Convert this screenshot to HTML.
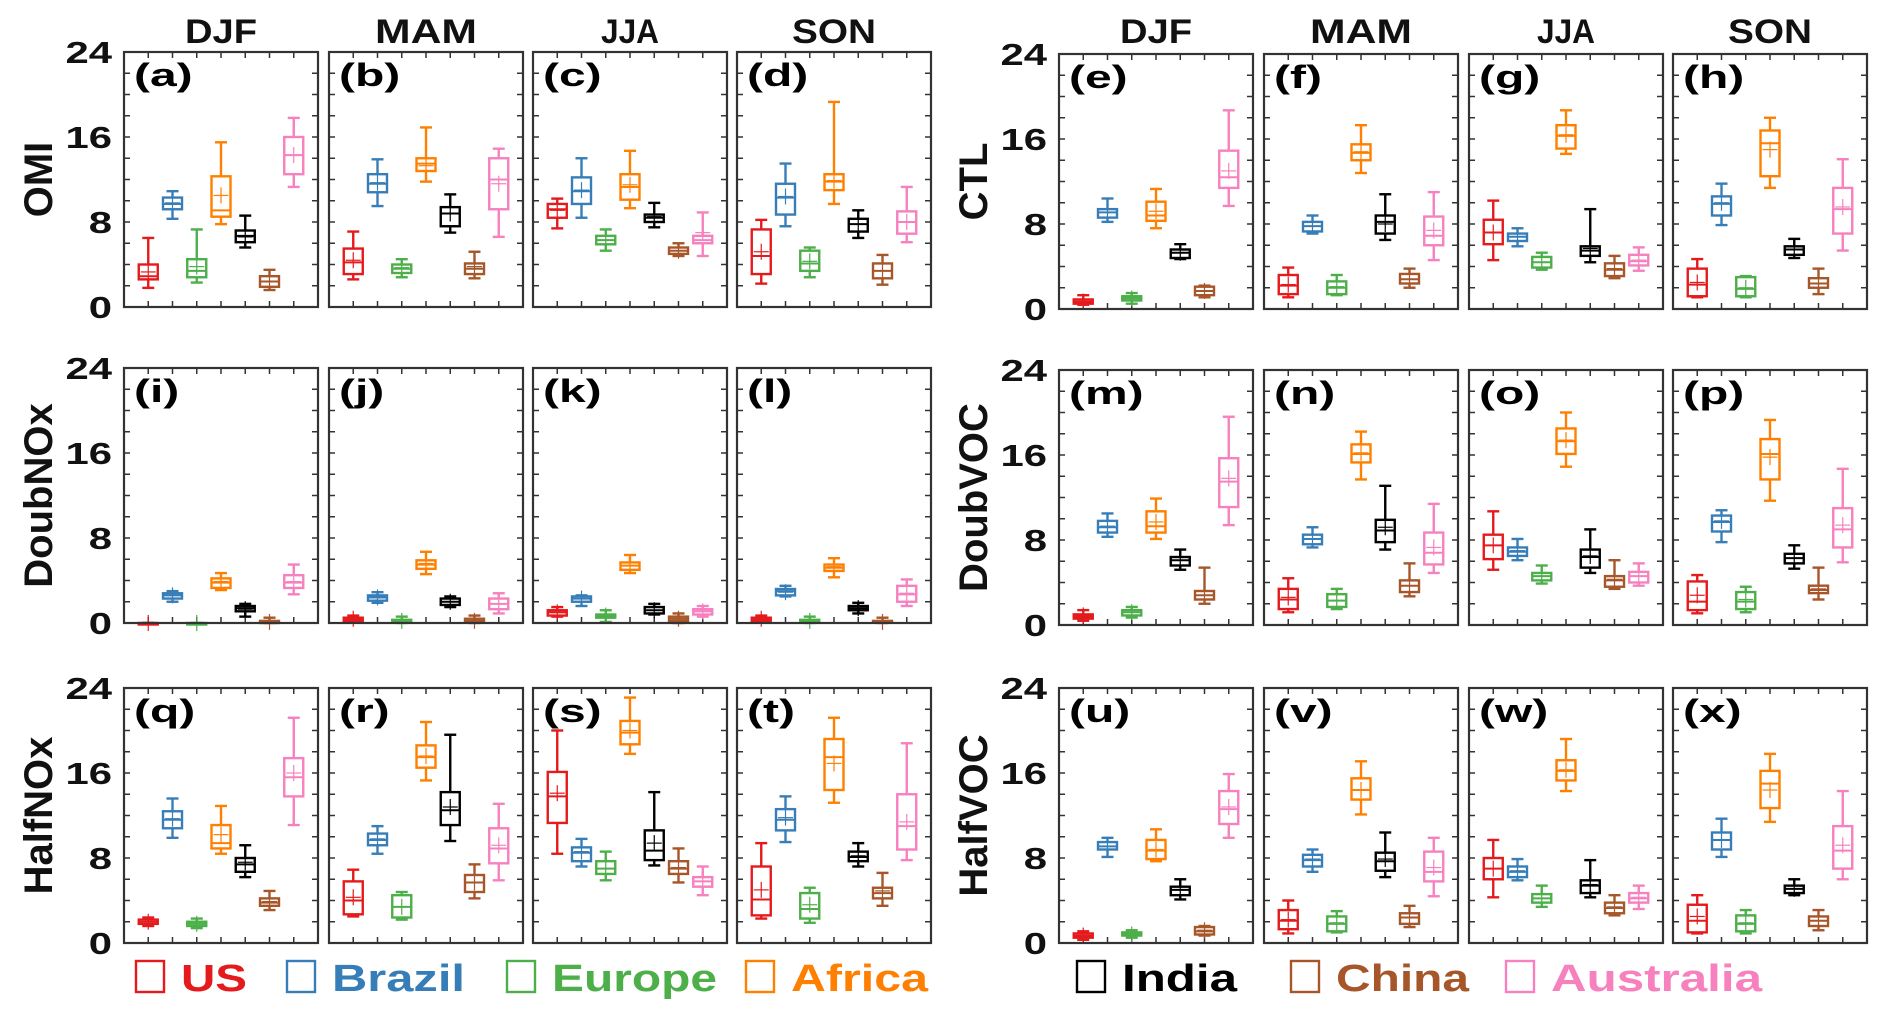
<!DOCTYPE html>
<html><head><meta charset="utf-8"><style>
html,body{margin:0;padding:0;background:#fff;}
svg{display:block;font-family:"Liberation Sans",sans-serif;font-weight:bold;}
</style></head><body>
<svg id="chart" width="1892" height="1014" viewBox="0 0 1892 1014" xmlns="http://www.w3.org/2000/svg"></svg>
<script>
const regions=['US','Brazil','Europe','Africa','India','China','Australia'];
const colors=['#e41a1c','#377eb8','#4daf4a','#ff7f00','#000000','#a65628','#f781bf'];
const seasons=['DJF','MAM','JJA','SON'];
const rowLabelsLeft=['OMI','DoubNOx','HalfNOx'];
const rowLabelsRight=['CTL','DoubVOC','HalfVOC'];
const yTicks=[0,8,16,24];
const yMax=24;
// each box: [lo, q1, median, q3, hi, mean]
const dataA=[[1.8,2.6,2.9,4.0,6.5,3.3],[8.3,9.2,9.7,10.3,10.9,9.8],[2.3,2.8,3.4,4.5,7.3,3.8],[7.8,8.5,9.1,12.3,15.5,10.5],[5.6,6.1,6.7,7.2,8.6,6.6],[1.6,1.9,2.4,2.9,3.5,2.4],[11.3,12.5,14.3,16.0,17.8,14.3]];
const dataB=[[2.6,3.1,4.2,5.5,7.1,4.4],[9.5,10.8,11.6,12.5,13.9,11.7],[2.8,3.2,3.6,4.0,4.5,3.7],[11.8,12.8,13.5,14.0,16.9,13.3],[7.0,7.6,8.8,9.4,10.6,8.8],[2.7,3.1,3.6,4.1,5.2,3.8],[6.6,9.2,12.0,14.0,14.9,11.6]];
const dataC=[[7.4,8.4,9.2,9.7,10.2,9.1],[8.4,9.7,10.9,12.2,14.0,11.0],[5.3,5.9,6.3,6.7,7.3,6.3],[9.3,10.1,11.3,12.5,14.7,11.5],[7.5,8.0,8.4,8.7,9.8,8.5],[4.8,5.0,5.3,5.6,6.0,5.3],[4.8,6.0,6.3,6.7,8.9,7.0]];
const dataD=[[2.2,3.1,4.8,7.3,8.2,5.2],[7.6,8.7,10.3,11.6,13.5,10.4],[2.8,3.4,4.1,5.3,5.6,4.3],[9.7,11.0,11.8,12.5,19.3,11.9],[6.5,7.1,7.8,8.3,9.1,7.8],[2.1,2.7,3.4,4.1,4.9,3.4],[6.1,6.9,8.0,9.0,11.3,8.0]];
const dataE=[[0.4,0.5,0.7,0.9,1.3,0.7],[8.2,8.6,9.1,9.4,10.4,9.1],[0.5,0.8,1.0,1.2,1.5,1.0],[7.6,8.3,8.8,10.1,11.3,9.2],[4.7,4.8,5.3,5.6,6.1,5.3],[1.1,1.3,1.7,2.1,2.2,1.7],[9.7,11.4,12.4,14.9,18.7,13.0]];
const dataF=[[1.1,1.4,2.2,3.2,3.9,2.3],[7.1,7.3,7.8,8.2,8.8,7.8],[1.3,1.4,2.0,2.6,3.2,2.1],[12.8,14.0,14.7,15.5,17.3,14.8],[6.5,7.1,8.2,8.8,10.8,8.0],[2.0,2.4,2.8,3.3,3.8,2.8],[4.6,6.0,6.9,8.7,11.0,7.4]];
const dataG=[[4.6,6.1,7.2,8.4,10.2,7.2],[5.9,6.4,6.8,7.1,7.6,6.8],[3.7,3.9,4.4,4.9,5.3,4.4],[14.6,15.1,16.3,17.3,18.7,16.4],[4.4,5.0,5.5,5.9,9.4,5.7],[2.9,3.1,3.7,4.3,5.0,3.8],[3.6,4.1,4.5,5.1,5.8,4.6]];
const dataH=[[1.1,1.2,2.3,3.8,4.7,2.5],[7.9,8.8,9.9,10.6,11.8,10.0],[1.1,1.2,1.9,3.0,3.1,2.0],[11.4,12.5,15.6,16.8,18.0,15.0],[4.8,5.1,5.6,5.9,6.6,5.6],[1.4,2.0,2.4,2.9,3.8,2.4],[5.5,7.1,9.4,11.4,14.1,9.6]];
const dataI=[[0,0,0,0,0,0],[2.0,2.3,2.6,2.8,3.0,2.6],[0,0,0,0,0,0],[3.1,3.3,3.8,4.2,4.7,3.9],[0.6,1.1,1.4,1.6,1.8,1.3],[0,0,0.1,0.2,0.5,0.1],[2.7,3.3,3.8,4.5,5.5,3.9]];
const dataJ=[[0.1,0.2,0.3,0.5,0.7,0.4],[1.9,2.1,2.4,2.6,2.9,2.4],[0,0.1,0.2,0.3,0.6,0.2],[4.6,5.1,5.5,5.9,6.7,5.6],[1.5,1.7,2.0,2.3,2.5,2.0],[0,0.1,0.2,0.4,0.7,0.2],[0.9,1.3,1.8,2.3,2.8,1.8]];
const dataK=[[0.6,0.7,1.0,1.2,1.5,1.0],[1.6,2.0,2.3,2.5,2.6,2.3],[0.1,0.5,0.7,0.8,1.2,0.7],[4.7,5.0,5.4,5.7,6.4,5.4],[0.8,0.9,1.2,1.5,1.8,1.2],[0,0.2,0.4,0.6,0.9,0.4],[0.6,0.8,1.1,1.3,1.6,1.1]];
const dataL=[[0.1,0.2,0.3,0.5,0.7,0.4],[2.5,2.6,3.0,3.2,3.5,2.9],[0,0.1,0.2,0.3,0.6,0.2],[4.3,4.9,5.2,5.5,6.1,5.3],[0.9,1.2,1.4,1.6,1.9,1.4],[0,0.05,0.1,0.2,0.5,0.1],[1.6,2.0,2.7,3.5,4.1,2.8]];
const dataM=[[0.4,0.6,0.8,1.0,1.4,0.9],[8.3,8.7,9.2,9.8,10.5,9.3],[0.7,0.9,1.2,1.4,1.7,1.2],[8.1,8.7,9.3,10.7,11.9,9.7],[5.2,5.6,6.1,6.4,7.1,6.1],[2.0,2.4,2.8,3.2,5.4,2.8],[9.4,11.1,13.5,15.7,19.6,13.8]];
const dataN=[[1.2,1.5,2.4,3.4,4.4,2.6],[7.3,7.6,8.1,8.5,9.2,8.1],[1.5,1.7,2.3,2.9,3.4,2.3],[13.7,15.3,16.1,17.0,18.2,16.2],[7.1,7.8,8.9,9.9,13.1,9.2],[2.7,3.1,3.7,4.2,5.8,3.7],[4.9,5.7,6.8,8.7,11.4,7.3]];
const dataO=[[5.2,6.2,7.5,8.5,10.7,7.5],[6.1,6.5,6.9,7.3,8.1,7.0],[3.9,4.2,4.6,4.9,5.6,4.6],[14.9,16.1,17.3,18.5,20.0,17.4],[4.9,5.4,6.4,7.1,9.0,6.5],[3.4,3.6,4.2,4.6,6.1,4.3],[3.7,4.0,4.6,5.0,5.8,4.6]];
const dataP=[[1.1,1.4,2.2,4.1,4.7,2.8],[7.8,8.8,9.7,10.3,10.8,9.8],[1.2,1.5,2.2,3.1,3.6,2.4],[11.7,13.7,16.1,17.5,19.3,15.8],[5.3,5.8,6.3,6.7,7.5,6.3],[2.4,3.0,3.3,3.7,5.4,3.4],[5.9,7.3,9.0,11.0,14.7,9.4]];
const dataQ=[[1.6,1.8,2.0,2.2,2.4,2.0],[9.9,10.8,11.6,12.4,13.6,11.7],[1.4,1.6,1.8,2.0,2.3,1.8],[8.4,8.9,9.4,11.1,12.9,10.2],[6.2,6.7,7.4,8.0,9.2,7.6],[3.1,3.5,3.8,4.2,4.9,3.9],[11.1,13.8,15.6,17.4,21.2,16.0]];
const dataR=[[2.5,2.7,4.0,5.8,6.9,4.3],[8.4,9.2,9.7,10.3,11.0,9.8],[2.2,2.4,3.4,4.5,4.8,3.4],[15.3,16.5,17.5,18.6,20.8,17.6],[9.6,11.1,12.5,14.2,19.6,12.8],[4.2,4.8,5.7,6.4,7.4,5.7],[5.9,7.5,8.9,10.8,13.1,9.2]];
const dataS=[[8.4,11.3,13.8,16.1,20.0,14.1],[7.2,7.7,8.5,9.0,9.8,8.6],[5.9,6.5,7.0,7.7,8.6,7.0],[17.8,18.7,19.8,20.9,23.1,20.0],[7.3,7.8,8.7,10.6,14.2,9.4],[5.7,6.5,7.0,7.7,8.9,7.1],[4.5,5.3,5.8,6.2,7.2,5.8]];
const dataT=[[2.3,2.6,4.1,7.2,9.4,5.0],[9.5,10.6,11.6,12.6,13.8,11.8],[1.9,2.3,3.2,4.7,5.2,3.6],[13.2,14.4,17.5,19.2,21.2,16.9],[7.2,7.7,8.1,8.6,9.4,8.2],[3.5,4.2,4.7,5.2,6.6,4.9],[7.8,8.8,11.0,14.0,18.8,11.4]];
const dataU=[[0.3,0.5,0.7,0.9,1.1,0.7],[8.1,8.8,9.1,9.5,9.9,9.1],[0.5,0.7,0.8,1.0,1.2,0.8],[7.7,7.9,8.7,9.7,10.7,8.8],[4.1,4.5,5.0,5.3,6.0,5.0],[0.7,0.8,1.1,1.5,1.6,1.2],[9.9,11.2,12.6,14.3,15.9,12.8]];
const dataV=[[0.9,1.3,2.1,3.1,4.0,2.2],[6.7,7.2,7.8,8.3,8.8,7.9],[1.0,1.1,1.8,2.5,3.0,1.9],[12.1,13.5,14.4,15.5,17.1,14.4],[6.2,6.8,7.7,8.5,10.4,7.9],[1.5,1.8,2.4,2.8,3.5,2.4],[4.4,5.8,6.7,8.6,9.9,7.1]];
const dataW=[[4.3,6.0,7.0,8.0,9.7,7.0],[5.9,6.2,6.7,7.2,7.9,6.8],[3.4,3.8,4.2,4.6,5.4,4.2],[14.3,15.3,16.2,17.2,19.2,16.3],[4.3,4.7,5.4,5.9,7.8,5.5],[2.6,2.8,3.3,3.8,4.5,3.4],[3.2,3.8,4.2,4.7,5.4,4.3]];
const dataX=[[0.9,1.0,2.1,3.6,4.5,2.5],[8.1,8.8,9.7,10.4,11.7,9.7],[0.9,1.1,1.8,2.6,3.1,1.9],[11.4,12.7,15.0,16.2,17.8,14.4],[4.5,4.7,5.1,5.4,6.0,5.1],[1.2,1.6,2.1,2.5,3.1,2.1],[6.0,7.0,8.7,11.0,14.3,9.2]];

const panelLetters='abcdefghijklmnopqrstuvwx'.split('');
const leftPanels=[[dataA,dataB,dataC,dataD],[dataI,dataJ,dataK,dataL],[dataQ,dataR,dataS,dataT]];
const rightPanels=[[dataE,dataF,dataG,dataH],[dataM,dataN,dataO,dataP],[dataU,dataV,dataW,dataX]];

const NS='http://www.w3.org/2000/svg';
const svg=document.getElementById('chart');
function mk(tag,attrs,parent){const e=document.createElementNS(NS,tag);for(const k in attrs)e.setAttribute(k,attrs[k]);(parent||svg).appendChild(e);return e;}

const colLeftX=[124,329,533,737];
const colRightX=[1059,1264,1469,1673];
const rowTopL=[52,368,688];
const rowTopR=[54,370,688];
const PW=194, PH=255;

function yScale(top,v){return top+PH-(v/yMax)*PH;}
function xScale(left,i){return left+(i+1)*PW/8;}

function drawPanel(left,top,data,letter){
  const g=mk('g',{});
  
  
  for(let v=2;v<yMax;v+=2){
    const y=yScale(top,v);
    const t1=mk('line',{x1:left,x2:left+6,y1:y,y2:y,stroke:'#333','stroke-width':1.5},g);
    
    
    const t2=mk('line',{x1:left+PW-6,x2:left+PW,y1:y,y2:y,stroke:'#333','stroke-width':1.5},g);
    
    
  }
  for(let i=0;i<7;i++){
    const x=xScale(left,i);
    const t1=mk('line',{x1:x,x2:x,y1:top+PH,y2:top+PH-6,stroke:'#333','stroke-width':1.5},g);
    
    
    const t2=mk('line',{x1:x,x2:x,y1:top,y2:top+6,stroke:'#333','stroke-width':1.5},g);
    
    
  }
  data.forEach((d,i)=>{
    const c=colors[i];const x=xScale(left,i);const bw=19,cw=12;
    const [lo,q1,md,q3,hi,mn]=d;
    const bg=mk('g',{stroke:c,fill:'none','stroke-width':2.4},g);
    
    
    mk('line',{x1:x,x2:x,y1:yScale(top,hi),y2:yScale(top,q3)},bg);
    mk('line',{x1:x,x2:x,y1:yScale(top,q1),y2:yScale(top,lo)},bg);
    mk('line',{x1:x-cw/2,x2:x+cw/2,y1:yScale(top,hi),y2:yScale(top,hi)},bg);
    mk('line',{x1:x-cw/2,x2:x+cw/2,y1:yScale(top,lo),y2:yScale(top,lo)},bg);
    const yq3=yScale(top,q3),yq1=yScale(top,q1);
    mk('rect',{x:x-bw/2,y:yq3,width:bw,height:Math.max(yq1-yq3,1.5)},bg);
    mk('line',{x1:x-bw/2,x2:x+bw/2,y1:yScale(top,md),y2:yScale(top,md),'stroke-width':2},bg);
    const ym=yScale(top,mn);
    mk('line',{x1:x-bw/2+2,x2:x+bw/2-2,y1:ym,y2:ym,'stroke-width':1.2},bg);
    mk('line',{x1:x,x2:x,y1:ym-8,y2:ym+8,'stroke-width':1.2},bg);
  });
  const fr=mk('rect',{x:left,y:top,width:PW,height:PH,fill:'none',stroke:'#333','stroke-width':2.2},g);
  
  
  const lg=mk('g',{transform:`translate(${left+10},${top+34}) scale(1.5,1)`},g);
  const lt=mk('text',{x:0,y:0,'font-size':32,fill:'#000'},lg);
  lt.textContent='('+letter+')';
  
  
}

function drawYAxis(left,top,label){
  yTicks.forEach(v=>{
    const y=yScale(top,v);
    const g=mk('g',{transform:`translate(${left-12},${y+11}) scale(1.35,1)`});
    const t=mk('text',{x:0,y:0,'text-anchor':'end','font-size':31,fill:'#111'},g);
    t.textContent=v;
    
    
  });
  const cy=top+PH/2, cx=left-72;
  const t=mk('text',{x:0,y:0,'text-anchor':'middle','font-size':40,fill:'#111',transform:`translate(${cx},${cy}) rotate(-90)`});
  t.textContent=label;
  
  
}

const seasonWidths=[72,102,58,84];
function drawSeasons(cols){
  seasons.forEach((s,j)=>{
    const t=mk('text',{x:cols[j]+PW/2,y:43,'text-anchor':'middle','font-size':34,fill:'#111',textLength:seasonWidths[j],lengthAdjust:'spacingAndGlyphs'});
    t.textContent=s;
    
    
  });
}
drawSeasons(colLeftX);drawSeasons(colRightX);

for(let r=0;r<3;r++){
  drawYAxis(colLeftX[0],rowTopL[r],rowLabelsLeft[r]);
  drawYAxis(colRightX[0],rowTopR[r],rowLabelsRight[r]);
  for(let c=0;c<4;c++){
    drawPanel(colLeftX[c],rowTopL[r],leftPanels[r][c],panelLetters[r*8+c]);
    drawPanel(colRightX[c],rowTopR[r],rightPanels[r][c],panelLetters[r*8+4+c]);
  }
}

const legendSqX=[136,287,507,746,1077,1291,1506];
const legendTxtW=[66,133,165,137,115,133,211];
regions.forEach((rg,i)=>{
  const g=mk('g',{});
  
  
  mk('rect',{x:legendSqX[i],y:961,width:28,height:31,fill:'none',stroke:colors[i],'stroke-width':2.4},g);
  const t=mk('text',{x:legendSqX[i]+45,y:991,'font-size':38,fill:colors[i],textLength:legendTxtW[i],lengthAdjust:'spacingAndGlyphs'},g);
  t.textContent=rg;
});
</script>
</body></html>
